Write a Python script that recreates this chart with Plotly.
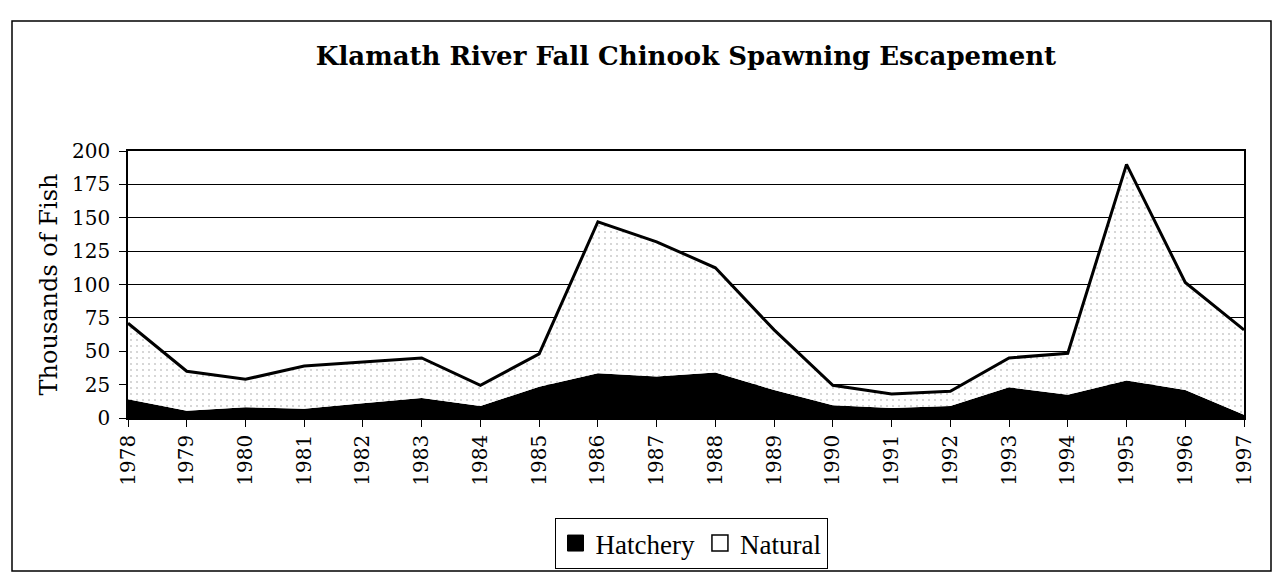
import plotly.graph_objects as go

years = [1978, 1979, 1980, 1981, 1982, 1983, 1984, 1985, 1986, 1987,
         1988, 1989, 1990, 1991, 1992, 1993, 1994, 1995, 1996, 1997]
hatchery = [14, 5.5, 8, 7, 11, 15, 9, 23.5, 33.5, 31,
            34, 21, 9.5, 7.5, 9, 23, 17.5, 28, 21, 2.5]
natural = [57, 29.5, 21, 32, 31, 30, 15.5, 24.5, 113.5, 101,
           78.5, 45, 15, 10.5, 11, 22, 31, 162, 80.5, 63.5]
y_ticks = [0, 25, 50, 75, 100, 125, 150, 175, 200]

title_text = "Klamath River Fall Chinook Spawning Escapement"
y_title = "Thousands of Fish"

fig = go.Figure()
fig.add_trace(go.Scatter(
    x=years, y=hatchery, name="Hatchery", mode="lines",
    stackgroup="one", line=dict(width=0, color="black"),
    fillcolor="black", showlegend=False,
))
fig.add_trace(go.Scatter(
    x=years, y=natural, name="Natural", mode="lines",
    stackgroup="one", line=dict(width=3, color="black"),
    fillcolor="white",
    fillpattern=dict(shape=".", fgcolor="#9a9a9a", bgcolor="white",
                     size=6, solidity=0.1),
    showlegend=False,
))
# legend swatches
fig.add_trace(go.Scatter(
    x=[None], y=[None], name="Hatchery", mode="markers",
    marker=dict(symbol="square", size=20, color="black",
                line=dict(color="black", width=1)),
))
fig.add_trace(go.Scatter(
    x=[None], y=[None], name="Natural", mode="markers",
    marker=dict(symbol="square", size=18, color="white",
                line=dict(color="black", width=1.5)),
))

serif = "DejaVu Serif"
L, R, T, B = 128, 30, 151, 155
W, H = 1274, 573
pw, ph = W - L - R, H - T - B

def px_to_paper_x(px):
    return (px - L) / pw

def px_to_paper_y(py):
    return (H - B - py) / ph

fig.update_layout(
    width=W, height=H,
    margin=dict(l=L, r=R, t=T, b=B, pad=0, autoexpand=False),
    paper_bgcolor="white", plot_bgcolor="white",
    title=dict(text="<b>" + title_text + "</b>",
               font=dict(family=serif, size=26, color="black"),
               x=0.5, xref="paper", xanchor="center",
               y=1 - 56 / H, yref="container", yanchor="middle"),
    showlegend=True,
    legend=dict(orientation="h", x=px_to_paper_x(691), xanchor="center",
                y=1 - 518 / H, yref="container", yanchor="top",
                traceorder="normal",
                bordercolor="black", borderwidth=1, bgcolor="white",
                font=dict(family="Liberation Serif", size=27, color="black"),
                itemwidth=30, tracegroupgap=0),
    xaxis=dict(range=[1978, 1997], tickmode="array", tickvals=years,
               ticktext=[str(y) for y in years], tickangle=-90,
               ticks="outside", ticklen=7, tickcolor="black", tickwidth=1,
               showline=True, linecolor="black", linewidth=1.5, mirror=True,
               showgrid=False, zeroline=False,
               tickfont=dict(family=serif, size=20, color="black")),
    yaxis=dict(range=[0, 200], tickmode="array", tickvals=y_ticks,
               ticks="outside", ticklen=7, tickcolor="black", tickwidth=1,
               showline=True, linecolor="black", linewidth=1.5, mirror=True,
               showgrid=True, gridcolor="black", gridwidth=1.2,
               zeroline=False, ticklabelstandoff=5,
               tickfont=dict(family=serif, size=20, color="black"),
               title=dict(text=y_title, standoff=8,
                          font=dict(family=serif, size=24, color="black"))),
    shapes=[dict(type="rect", xref="paper", yref="paper",
                 x0=px_to_paper_x(12), x1=px_to_paper_x(1271),
                 y0=px_to_paper_y(571), y1=px_to_paper_y(21),
                 line=dict(color="black", width=1.5), fillcolor="rgba(0,0,0,0)",
                 layer="below")],
)

fig.write_html("out.html", config={"displayModeBar": False},
               post_script="document.body.style.margin='0';document.body.style.overflow='hidden';")
